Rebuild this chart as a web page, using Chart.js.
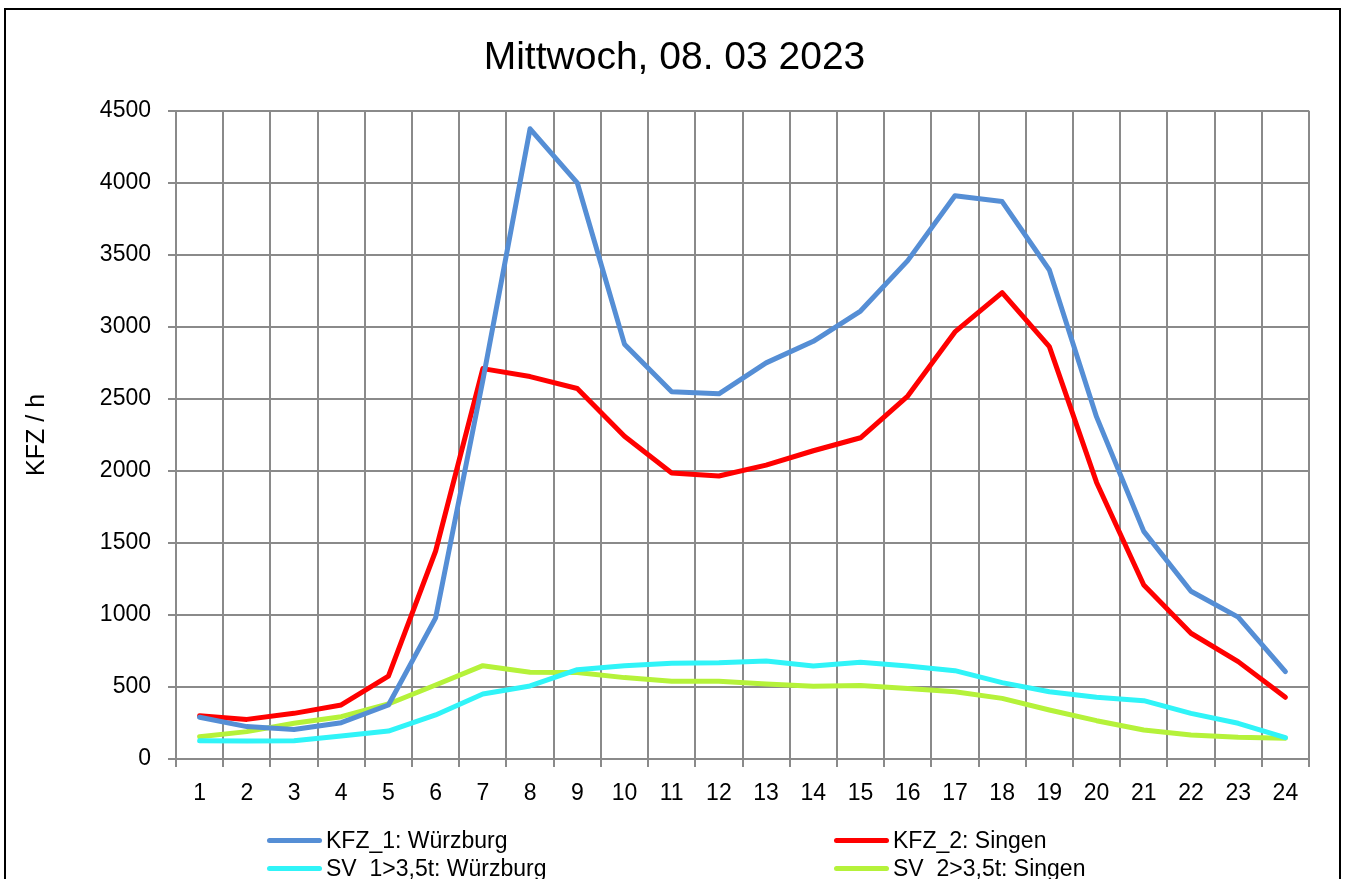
<!DOCTYPE html>
<html>
<head>
<meta charset="utf-8">
<script src="https://cdn.jsdelivr.net/npm/chart.js@4"></script>
<style>
  html, body { margin: 0; padding: 0; background: #fff; overflow: hidden; }
  #wrap { position: relative; width: 1349px; height: 879px; }
  #frame { position: absolute; left: 4px; top: 8px; width: 1337px; height: 900px;
           border: 2px solid #000; box-sizing: border-box; pointer-events: none; }
  #legend { position: absolute; left: 0; top: 0; width: 1349px; height: 879px; pointer-events: none;
            font-family: "Liberation Sans", Arial, sans-serif; font-size: 23px; color: #000; }
  .item { position: absolute; height: 28px; display: flex; align-items: center; white-space: nowrap; }
  .swatch { width: 55px; height: 5px; border-radius: 3px; margin-right: 4px; }
</style>
</head>
<body>
<div id="wrap">
  <canvas id="chart" width="1349" height="879"></canvas>
  <div id="legend"></div>
  <div id="frame"></div>
</div>
<script>
const hours = ['1','2','3','4','5','6','7','8','9','10','11','12','13','14','15','16','17','18','19','20','21','22','23','24'];
const kfzWuerzburg = [290, 225, 205, 252, 375, 980, 2630, 4375, 4000, 2880, 2550, 2535, 2750, 2900, 3110, 3460, 3910, 3870, 3395, 2375, 1580, 1165, 985, 606];
const kfzSingen = [300, 275, 317, 375, 576, 1444, 2710, 2655, 2572, 2240, 1985, 1965, 2040, 2140, 2230, 2520, 2965, 3238, 2863, 1920, 1208, 873, 676, 428];
const svWuerzburg = [127, 125, 127, 160, 194, 306, 451, 507, 620, 648, 665, 668, 680, 645, 672, 645, 613, 530, 467, 428, 405, 317, 248, 148];
const svSingen = [155, 190, 248, 294, 382, 514, 648, 602, 600, 565, 540, 540, 520, 505, 510, 490, 467, 421, 340, 266, 201, 167, 151, 144];
const seriesNames = ['KFZ_1: Würzburg', 'KFZ_2: Singen', 'SV_1>3,5t: Würzburg', 'SV_2>3,5t: Singen'];
const seriesColors = ['#558ED5', '#FF0000', '#30F4F8', '#B5F23A'];
const yTitle = 'KFZ / h';
const chartTitle = 'Mittwoch, 08. 03 2023';

const font = '"Liberation Sans", Arial, sans-serif';
const gridColor = '#8a8a8a';

function makeSet(i, values) {
    return {
        label: seriesNames[i],
        data: values,
        borderColor: seriesColors[i],
        backgroundColor: seriesColors[i],
        borderWidth: 5,
        pointRadius: 0,
        tension: 0,
        borderJoinStyle: 'round',
        borderCapStyle: 'round',
        fill: false
    };
}

const chart = new Chart(document.getElementById('chart'), {
    type: 'line',
    data: {
        labels: hours,
        datasets: [
            makeSet(0, kfzWuerzburg),
            makeSet(1, kfzSingen),
            makeSet(2, svWuerzburg),
            makeSet(3, svSingen)
        ]
    },
    options: {
        responsive: false,
        animation: false,
        layout: { padding: 0 },
        plugins: {
            legend: { display: false },
            tooltip: { enabled: false },
            title: {
                display: true,
                text: chartTitle,
                color: '#000',
                font: { family: font, size: 39, weight: 'normal' },
                padding: { top: 35, bottom: 29 }
            }
        },
        scales: {
            x: {
                offset: true,
                grid: { offset: true, color: gridColor, lineWidth: 2, tickLength: 8, tickColor: gridColor },
                border: { color: gridColor, width: 2 },
                ticks: { color: '#000', font: { family: font, size: 23 }, padding: 13, maxRotation: 0, autoSkip: false },
                afterFit: scale => { scale.height = 120; }
            },
            y: {
                min: 0,
                max: 4500,
                grid: { color: gridColor, lineWidth: 2, tickLength: 8, tickColor: gridColor },
                border: { color: gridColor, width: 2 },
                ticks: {
                    stepSize: 500,
                    color: '#000',
                    font: { family: font, size: 23 },
                    padding: 17,
                    callback: value => String(value)
                },
                title: {
                    display: true,
                    text: yTitle,
                    color: '#000',
                    font: { family: font, size: 25 },
                    padding: { top: 22, bottom: 0 }
                },
                afterFit: scale => { scale.width = 176; }
            },
            // empty right margin so the title stays centred on the whole picture
            spacer: {
                position: 'right',
                grid: { display: false, drawTicks: false },
                border: { display: false },
                ticks: { display: false },
                afterFit: scale => { scale.width = 40; }
            }
        }
    }
});

// legend in two columns below the plot
const legend = document.getElementById('legend');
const legendPos = [[267, 826], [834, 826], [267, 854], [834, 854]];
chart.data.datasets.forEach((ds, i) => {
    const item = document.createElement('div');
    item.className = 'item';
    item.style.left = legendPos[i][0] + 'px';
    item.style.top = legendPos[i][1] + 'px';
    item.innerHTML = `<span class="swatch" style="background:${ds.borderColor}"></span><span>${ds.label}</span>`;
    legend.appendChild(item);
});
</script>
</body>
</html>
